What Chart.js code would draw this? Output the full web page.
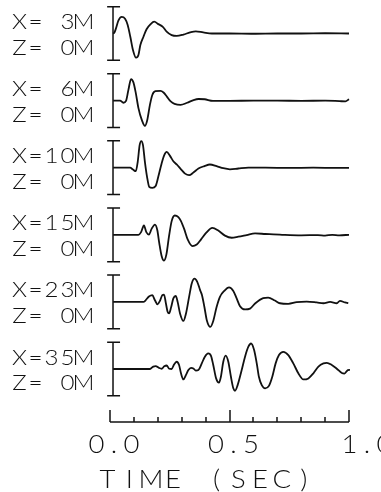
<!DOCTYPE html>
<html>
<head>
<meta charset="utf-8">
<script src="https://cdn.jsdelivr.net/npm/chart.js@4/dist/chart.umd.min.js"></script>
<style>
  html, body { margin: 0; padding: 0; background: #fff; }
  canvas { display: block; }
</style>
</head>
<body>
<canvas id="seis" width="381" height="492"></canvas>
<script>
'use strict';

// ---- data ----
const distances = [3, 6, 10, 15, 23, 35];   // X (m)
const depths = [0, 0, 0, 0, 0, 0];          // Z (m)

const t03 = [0.013, 0.018, 0.025, 0.035, 0.049, 0.063, 0.074, 0.085, 0.096, 0.109, 0.119, 0.127, 0.140, 0.153, 0.170, 0.185, 0.202, 0.221, 0.237, 0.258, 0.279, 0.307, 0.335, 0.359, 0.390, 0.426, 0.5, 0.6, 0.7, 0.8, 0.9, 1.0];
const a03 = [0.0, 0.03, 0.19, 0.48, 0.62, 0.55, 0.32, -0.12, -0.61, -0.90, -0.80, -0.43, -0.12, 0.16, 0.35, 0.44, 0.35, 0.25, 0.07, -0.06, -0.09, -0.04, 0.04, 0.08, 0.04, 0.0, 0.0, -0.01, 0.0, 0.0, 0.01, 0.0];

const t06 = [0.013, 0.042, 0.056, 0.067, 0.077, 0.088, 0.098, 0.108, 0.119, 0.133, 0.146, 0.156, 0.167, 0.177, 0.190, 0.211, 0.224, 0.238, 0.254, 0.270, 0.295, 0.323, 0.347, 0.371, 0.396, 0.431, 0.5, 0.6, 0.7, 0.8, 0.9, 0.96, 0.985, 1.0];
const a06 = [0.0, 0.0, -0.08, -0.01, 0.40, 0.80, 0.68, 0.28, -0.28, -0.72, -0.94, -0.72, -0.16, 0.21, 0.35, 0.36, 0.30, 0.15, -0.03, -0.12, -0.16, -0.08, 0.01, 0.06, 0.05, -0.01, -0.01, 0.0, 0.0, -0.01, 0.0, -0.02, -0.03, 0.05];

const t10 = [0.013, 0.084, 0.096, 0.108, 0.116, 0.124, 0.131, 0.138, 0.146, 0.155, 0.164, 0.177, 0.191, 0.202, 0.216, 0.227, 0.237, 0.251, 0.265, 0.279, 0.297, 0.314, 0.331, 0.349, 0.370, 0.395, 0.418, 0.446, 0.474, 0.502, 0.537, 0.579, 0.65, 0.75, 0.85, 0.95, 1.0];
const a10 = [0.0, 0.0, -0.07, -0.13, 0.22, 0.84, 0.99, 0.84, 0.22, -0.34, -0.71, -0.75, -0.68, -0.34, 0.16, 0.47, 0.59, 0.44, 0.24, 0.12, -0.06, -0.22, -0.28, -0.18, -0.03, 0.06, 0.12, 0.06, -0.02, -0.06, -0.03, 0.0, 0.0, -0.01, 0.0, -0.01, -0.01];

const t15 = [0.013, 0.119, 0.130, 0.142, 0.152, 0.163, 0.174, 0.188, 0.198, 0.206, 0.216, 0.226, 0.236, 0.247, 0.258, 0.271, 0.286, 0.297, 0.311, 0.325, 0.345, 0.363, 0.381, 0.402, 0.428, 0.453, 0.481, 0.509, 0.537, 0.572, 0.607, 0.65, 0.72, 0.8, 0.87, 0.9, 0.93, 0.96, 1.0];
const a15 = [0.0, 0.0, 0.10, 0.35, 0.10, 0.01, 0.22, 0.38, 0.17, -0.30, -0.79, -0.96, -0.73, -0.05, 0.51, 0.72, 0.66, 0.51, 0.20, -0.17, -0.42, -0.36, -0.17, 0.07, 0.26, 0.16, -0.03, -0.11, -0.07, -0.01, 0.05, 0.03, 0.0, -0.02, -0.01, -0.03, 0.0, -0.02, 0.0];

const t23 = [0.013, 0.140, 0.149, 0.163, 0.177, 0.188, 0.199, 0.209, 0.219, 0.226, 0.234, 0.241, 0.247, 0.256, 0.265, 0.275, 0.283, 0.293, 0.307, 0.318, 0.331, 0.342, 0.354, 0.365, 0.377, 0.385, 0.395, 0.405, 0.420, 0.432, 0.446, 0.460, 0.478, 0.498, 0.516, 0.530, 0.544, 0.565, 0.586, 0.607, 0.641, 0.662, 0.690, 0.711, 0.746, 0.781, 0.823, 0.865, 0.893, 0.921, 0.949, 0.962, 0.983, 0.997];
const a23 = [0.0, 0.0, 0.06, 0.20, 0.25, 0.06, -0.09, 0.04, 0.25, 0.27, -0.06, -0.37, -0.43, -0.19, 0.13, 0.22, 0.0, -0.43, -0.71, -0.43, 0.19, 0.69, 0.87, 0.75, 0.44, 0.25, -0.19, -0.68, -0.93, -0.71, -0.19, 0.19, 0.41, 0.54, 0.41, 0.13, -0.16, -0.28, -0.25, -0.06, 0.14, 0.16, 0.05, -0.05, -0.07, -0.01, 0.01, -0.02, -0.05, 0.0, -0.05, 0.04, -0.02, -0.05];

const t35 = [0.013, 0.167, 0.181, 0.191, 0.205, 0.216, 0.227, 0.237, 0.248, 0.258, 0.268, 0.279, 0.289, 0.297, 0.307, 0.318, 0.328, 0.339, 0.349, 0.359, 0.370, 0.384, 0.397, 0.411, 0.423, 0.432, 0.444, 0.456, 0.464, 0.474, 0.484, 0.495, 0.506, 0.516, 0.523, 0.534, 0.551, 0.565, 0.579, 0.590, 0.603, 0.614, 0.623, 0.635, 0.649, 0.665, 0.679, 0.693, 0.707, 0.725, 0.746, 0.767, 0.788, 0.809, 0.830, 0.851, 0.872, 0.893, 0.907, 0.928, 0.949, 0.970, 0.981, 0.995, 1.004];
const a35 = [0.0, 0.0, 0.09, 0.11, 0.04, 0.01, 0.10, 0.13, 0.01, 0.0, 0.17, 0.27, 0.15, -0.16, -0.39, -0.22, -0.04, 0.04, 0.02, -0.06, -0.04, 0.21, 0.46, 0.58, 0.48, 0.15, -0.35, -0.51, -0.29, 0.27, 0.50, 0.27, -0.29, -0.72, -0.81, -0.60, -0.04, 0.46, 0.83, 0.95, 0.71, 0.21, -0.29, -0.60, -0.72, -0.63, -0.29, 0.21, 0.52, 0.64, 0.52, 0.21, -0.16, -0.39, -0.35, -0.16, 0.09, 0.21, 0.23, 0.15, 0.01, -0.15, -0.17, -0.04, -0.03];

const traceTimes = [t03, t06, t10, t15, t23, t35];
const traceAmps = [a03, a06, a10, a15, a23, a35];

const timeTicks = [0, 0.1, 0.2, 0.3, 0.4, 0.5, 0.6, 0.7, 0.8, 0.9, 1.0];
const labelTicks = [0, 0.5, 1.0];
const labelText = ['0.0', '0.5', '1.0'];
const axisTitle = 'TIME (SEC)';

// ---- layout ----
const SPACING = 2.5;          // trace separation, in scale-bar half heights
const PX_PER_UNIT = 26.84;
const TOP_PX = 33.5;          // baseline of first trace
const AREA_BOTTOM = 422;
const INK = '#111';
const FONT = 'Lato, "Open Sans", "DejaVu Sans", sans-serif';

const yMax = TOP_PX / PX_PER_UNIT;
const yMin = yMax - AREA_BOTTOM / PX_PER_UNIT;

const BAR_T = 0.0126, CAP_L = -0.012, CAP_R = 0.042;

const datasets = [];
traceTimes.forEach((ts, i) => {
  const off = -SPACING * i;
  const amps = traceAmps[i];
  datasets.push({
    data: ts.map((t, k) => ({ x: t, y: amps[k] + off })),
    borderColor: INK, borderWidth: 1.8, pointRadius: 0,
    cubicInterpolationMode: 'monotone', clip: false
  });
  datasets.push({
    data: [
      { x: CAP_L, y: off + 1 }, { x: CAP_R, y: off + 1 }, { x: BAR_T, y: off + 1 },
      { x: BAR_T, y: off - 1 }, { x: CAP_L, y: off - 1 }, { x: CAP_R, y: off - 1 }
    ],
    borderColor: INK, borderWidth: 1.5, pointRadius: 0, tension: 0, clip: false
  });
});

// plotter-style text: every character sits in a fixed-width cell
function drawCells(ctx, txt, firstCenter, yCenter, size, advance, sx) {
  ctx.save();
  ctx.font = '300 ' + size + 'px ' + FONT;
  ctx.textBaseline = 'alphabetic';
  ctx.textAlign = 'center';
  ctx.fillStyle = INK;
  const yb = yCenter + size * 0.72 / 2;
  [...txt].forEach((ch, i) => {
    if (ch === ' ') return;
    ctx.save();
    ctx.translate(firstCenter + advance * i, yb);
    ctx.scale(sx, 1);
    ctx.fillText(ch, 0, 0);
    ctx.restore();
  });
  ctx.restore();
}

const annotate = {
  id: 'annotate',
  afterDraw(chart) {
    const { ctx, chartArea } = chart;
    const xs = chart.scales.x, ys = chart.scales.y;
    const base = chartArea.bottom;

    // time axis line with upward ticks
    ctx.save();
    ctx.strokeStyle = INK;
    ctx.lineWidth = 1.5;
    ctx.beginPath();
    ctx.moveTo(xs.getPixelForValue(0), base);
    ctx.lineTo(xs.getPixelForValue(1), base);
    ctx.stroke();
    timeTicks.forEach(v => {
      const px = Math.round(xs.getPixelForValue(v));
      const len = labelTicks.includes(v) ? 12 : 5;
      ctx.beginPath();
      ctx.moveTo(px, base);
      ctx.lineTo(px, base - len);
      ctx.stroke();
    });
    ctx.restore();

    labelTicks.forEach((v, i) => {
      const shift = i === labelTicks.length - 1 ? 18 : 4;
      const center = xs.getPixelForValue(v) + shift;
      drawCells(ctx, labelText[i], center - 17.5, 444, 25, 17.5, 1.1);
    });
    const tc = xs.getPixelForValue(0.4);
    drawCells(ctx, axisTitle, tc - 21.8 * 4.5, 479, 25, 21.8, 1.1);

    // station labels
    distances.forEach((d, i) => {
      const yb = ys.getPixelForValue(-SPACING * i);
      const xl = 'X=' + String(d).padStart(2, ' ') + 'M';
      const zl = 'Z=' + String(depths[i]).padStart(2, ' ') + 'M';
      drawCells(ctx, xl, 19.5, yb - 12, 21, 16, 1.15);
      drawCells(ctx, zl, 19.5, yb + 13.5, 21, 16, 1.15);
    });
  }
};

new Chart(document.getElementById('seis'), {
  type: 'line',
  data: { datasets },
  options: {
    responsive: false,
    animation: false,
    layout: { padding: { left: 110, right: 32, top: 0, bottom: 492 - AREA_BOTTOM } },
    plugins: { legend: { display: false }, tooltip: { enabled: false } },
    scales: {
      x: { type: 'linear', display: false, min: 0, max: 1 },
      y: { type: 'linear', display: false, min: yMin, max: yMax }
    }
  },
  plugins: [annotate]
});
</script>
</body>
</html>
